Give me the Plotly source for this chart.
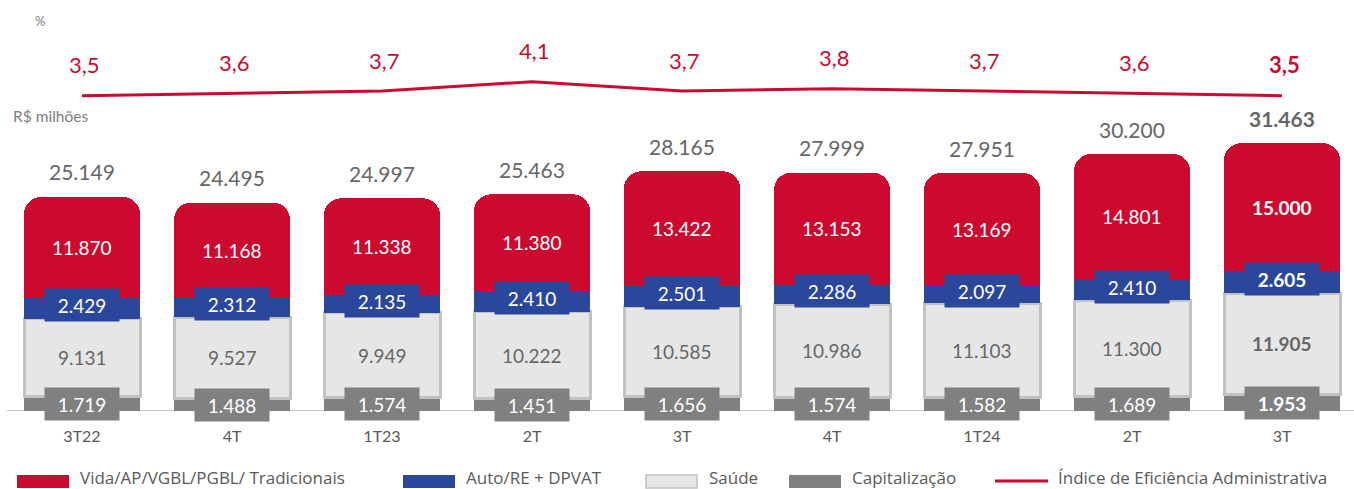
import plotly.graph_objects as go

# Quarterly written premiums by line of business (R$ millions)
quarters = ["3T22", "4T", "1T23", "2T", "3T", "4T", "1T24", "2T", "3T"]
vida = [11870, 11168, 11338, 11380, 13422, 13153, 13169, 14801, 15000]
auto = [2429, 2312, 2135, 2410, 2501, 2286, 2097, 2410, 2605]
saude = [9131, 9527, 9949, 10222, 10585, 10986, 11103, 11300, 11905]
capitalizacao = [1719, 1488, 1574, 1451, 1656, 1574, 1582, 1689, 1953]
totais = [25149, 24495, 24997, 25463, 28165, 27999, 27951, 30200, 31463]
# Administrative efficiency ratio (%)
indice = [3.5, 3.6, 3.7, 4.1, 3.7, 3.8, 3.7, 3.6, 3.5]

RED = "#cc0a2f"
BLUE = "#2b479b"
LIGHT = "#e6e6e6"
LIGHT_EDGE = "#c2c2c2"
DARK = "#808080"
TXT = "#666666"
FONT = "Lato"

W, H = 1354, 489
MB = 78
PLOT_H = H - MB
STEP = 150.0
FIRST_X = 82.0

x = list(range(len(quarters)))
last = len(quarters) - 1


def br_int(v):
    return f"{v:,}".replace(",", ".")


def br_dec(v):
    return f"{v:.1f}".replace(".", ",")


def bold_if_last(i, s):
    return f"<b>{s}</b>" if i == last else s


def lbl_font(size, color):
    return dict(family=FONT, size=size, color=color)


fig = go.Figure()

bar_w = 116 / STEP
fig.add_trace(go.Bar(x=x, y=capitalizacao, name="Capitalização", width=bar_w,
                     marker=dict(color=DARK, line=dict(width=0))))
fig.add_trace(go.Bar(x=x, y=saude, name="Saúde", width=bar_w,
                     marker=dict(color=LIGHT, line=dict(color=LIGHT_EDGE, width=3))))
fig.add_trace(go.Bar(x=x, y=auto, name="Auto/RE + DPVAT", width=bar_w,
                     marker=dict(color=BLUE, line=dict(width=0))))
fig.add_trace(go.Bar(x=x, y=vida, name="Vida/AP/VGBL/PGBL/ Tradicionais", width=bar_w,
                     marker=dict(color=RED, line=dict(width=0), cornerradius=17)))
fig.add_trace(go.Scatter(x=x, y=indice, yaxis="y2", mode="lines",
                         name="Índice de Eficiência Administrativa",
                         line=dict(color=RED, width=3)))

ann = []
for i in x:
    c = capitalizacao[i]
    s = saude[i]
    a = auto[i]
    v = vida[i]
    # Vida label
    ann.append(dict(x=i, y=c + s + a + v / 2, text=bold_if_last(i, br_int(v)),
                    showarrow=False, font=lbl_font(19, "white")))
    # Auto label in a box
    ann.append(dict(x=i, y=c + s + a / 2, text=bold_if_last(i, br_int(a)),
                    showarrow=False, yshift=3, bgcolor=BLUE, width=74, height=32,
                    borderpad=0, font=lbl_font(19, "white")))
    # Saúde label
    ann.append(dict(x=i, y=c + s / 2, text=bold_if_last(i, br_int(s)),
                    showarrow=False, font=lbl_font(19, TXT)))
    # Capitalização label in a box
    ann.append(dict(x=i, y=c / 2, text=bold_if_last(i, br_int(c)),
                    showarrow=False, bgcolor=DARK, width=74, height=32,
                    borderpad=0, font=lbl_font(19, "white")))
    # Total above the stack
    ann.append(dict(x=i, y=totais[i], text=bold_if_last(i, br_int(totais[i])),
                    showarrow=False, yshift=25, font=lbl_font(21, TXT)))
    # Efficiency ratio label
    ann.append(dict(x=i, y=indice[i], yref="y2", text=bold_if_last(i, br_dec(indice[i])),
                    showarrow=False, yshift=31, xshift=2, font=lbl_font(22, RED)))


def py2paper(py):
    return (PLOT_H - py) / PLOT_H


# Unit captions
ann.append(dict(x=33 / W, y=py2paper(21), xref="paper", yref="paper",
                text="%", showarrow=False, xanchor="left", yanchor="middle",
                font=lbl_font(13, "#808080")))
ann.append(dict(x=11 / W, y=py2paper(116), xref="paper", yref="paper",
                text="R$ milhões", showarrow=False, xanchor="left", yanchor="middle",
                font=lbl_font(15.5, "#808080")))

shapes = [dict(type="line", xref="x", yref="y", x0=-0.5, x1=8.6, y0=0, y1=0,
               line=dict(color="#c8c8c8", width=2), layer="below")]

# Legend row
LEG_Y = 481
legend_items = [
    ("rect", RED, None, 17, 69, "Vida/AP/VGBL/PGBL/ Tradicionais", 78),
    ("rect", BLUE, None, 403, 455, "Auto/RE + DPVAT", 464),
    ("rect", LIGHT, LIGHT_EDGE, 646, 697, "Saúde", 707),
    ("rect", DARK, None, 789, 841, "Capitalização", 850),
    ("line", RED, None, 995, 1048, "Índice de Eficiência Administrativa", 1056),
]

for kind, col, edge, x0, x1, label, tx in legend_items:
    if kind == "rect":
        shapes.append(dict(type="rect", xref="paper", yref="paper",
                           x0=x0 / W, x1=x1 / W, y0=py2paper(LEG_Y + 7), y1=py2paper(LEG_Y - 6),
                           fillcolor=col,
                           line=dict(color=edge if edge else col, width=1.5 if edge else 0)))
    else:
        shapes.append(dict(type="line", xref="paper", yref="paper",
                           x0=x0 / W, x1=x1 / W, y0=py2paper(LEG_Y), y1=py2paper(LEG_Y),
                           line=dict(color=col, width=3)))
    ann.append(dict(x=tx / W, y=py2paper(LEG_Y - 4), xref="paper", yref="paper",
                    text=label, showarrow=False, xanchor="left", yanchor="middle",
                    font=dict(family="Open Sans", size=17, color="#595959")))

x0_range = -FIRST_X / STEP
bar_top = PLOT_H / 0.00851
px_per_pct = 23.3
span2 = PLOT_H / px_per_pct
r0 = 3.5 - (PLOT_H - 95.7) / px_per_pct

fig.update_layout(
    width=W, height=H,
    margin=dict(l=0, r=0, t=0, b=MB),
    barmode="stack",
    showlegend=False,
    plot_bgcolor="white", paper_bgcolor="white",
    xaxis=dict(range=[x0_range, x0_range + W / STEP], tickvals=x, ticktext=quarters,
               showgrid=False, zeroline=False, showline=False, ticks="",
               ticklabelstandoff=14,
               tickfont=lbl_font(16, "#595959")),
    yaxis=dict(range=[0, bar_top], visible=False, showgrid=False),
    yaxis2=dict(range=[r0, r0 + span2], overlaying="y", visible=False, showgrid=False),
    annotations=ann,
    shapes=shapes,
)

fig.write_html("out.html")
